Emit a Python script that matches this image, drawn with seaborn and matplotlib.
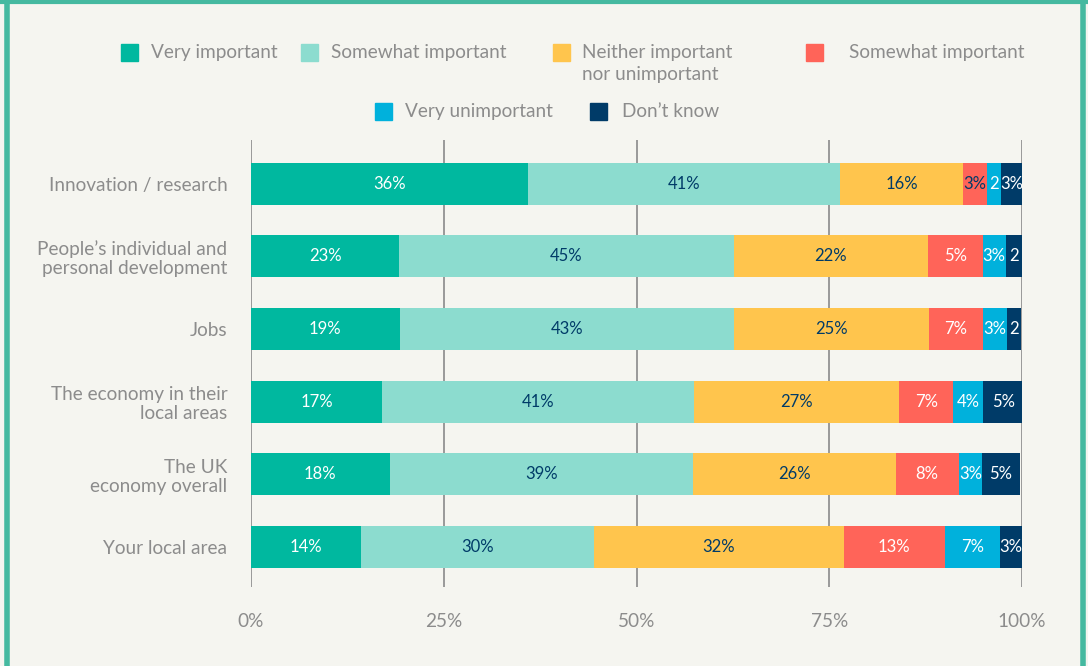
import matplotlib.pyplot as plt
import numpy as np
import pandas as pd
import seaborn as sns
from matplotlib.lines import Line2D
from matplotlib.patches import Rectangle

# data
questions = [
    "Innovation / research",
    "People\u2019s individual and\npersonal development",
    "Jobs",
    "The economy in their\nlocal areas",
    "The UK\neconomy overall",
    "Your local area",
]
answers = [
    "Very important", "Somewhat important", "Neither important\nnor unimportant",
    "Somewhat important ", "Very unimportant", "Don\u2019t know",
]
# segment widths as drawn (row 2 in the source is drawn with the Jobs widths)
very_imp    = [35.9, 19.2, 19.3, 17.0, 18.0, 14.3]
somewhat    = [40.5, 43.4, 43.4, 40.4, 39.3, 30.2]
neither     = [16.0, 25.2, 25.2, 26.7, 26.3, 32.4]
somewhat_un = [3.0, 7.1, 7.0, 7.0, 8.2, 13.1]
very_unimp  = [1.9, 3.0, 3.1, 3.9, 3.0, 7.1]
dont_know   = [2.8, 2.1, 1.9, 5.1, 4.9, 2.9]
# labels as printed on the bars
labels = [
    ["36%", "41%", "16%", "3%", "2", "3%"],
    ["23%", "45%", "22%", "5%", "3%", "2"],
    ["19%", "43%", "25%", "7%", "3%", "2"],
    ["17%", "41%", "27%", "7%", "4%", "5%"],
    ["18%", "39%", "26%", "8%", "3%", "5%"],
    ["14%", "30%", "32%", "13%", "7%", "3%"],
]
x_ticks = [0, 25, 50, 75, 100]

colors = ["#00b89f", "#8cdccf", "#ffc54d", "#ff6459", "#00b1dc", "#003b68"]
text_on = ["white", "#003b68", "#003b68", "white", "white", "white"]
grey = "#8c8c8c"
bg = "#f5f5f0"

sns.set_theme(style="white")
plt.rcParams["font.family"] = ["Lato", "DejaVu Sans"]

values = np.array([very_imp, somewhat, neither, somewhat_un, very_unimp, dont_know]).T
cum = values.cumsum(axis=1)

fig = plt.figure(figsize=(10.88, 6.66), dpi=100, facecolor=bg)
ax = fig.add_axes([251 / 1088, 1 - 587 / 666, 771 / 1088, 447 / 666])
ax.set_facecolor(bg)

for x in x_ticks:
    ax.axvline(x, color="#8a8a8a", lw=1.2, zorder=0)

# stacked bars: draw cumulative totals from the longest down
for j in range(len(answers) - 1, -1, -1):
    df = pd.DataFrame({"question": questions, "total": cum[:, j]})
    sns.barplot(data=df, x="total", y="question", orient="h", color=colors[j],
                saturation=1, width=0.58, linewidth=0, ax=ax, zorder=2)

for i in range(len(questions)):
    for j in range(len(answers)):
        c = text_on[j]
        if j == 3 and values[i, j] < 4:
            c = "#003b68"
        ax.text(cum[i, j] - values[i, j] / 2, i, labels[i][j], ha="center", va="center",
                fontsize=12, color=c, zorder=3)

ax.set_xlim(0, 100)
ax.set_ylim(5.55, -0.6)
ax.set_xticks(x_ticks)
ax.set_xticklabels([f"{x}%" for x in x_ticks])
ax.set_xlabel("")
ax.set_ylabel("")
ax.tick_params(axis="x", length=0, pad=19, labelsize=13.7, labelcolor=grey)
ax.tick_params(axis="y", length=0, pad=17, labelsize=13.7, labelcolor=grey)
for lab in ax.get_yticklabels():
    lab.set_linespacing(1.12)
sns.despine(ax=ax, left=True, bottom=True)

# legend drawn by hand in pixel positions
legend_items = [
    (121, 44, 0), (301, 44, 1), (553, 44, 2), (806, 44, 3),
    (375, 103, 4), (590, 103, 5),
]
text_x = [151, 331, 582, 849, 405, 622]
for (px, py, j), tx in zip(legend_items, text_x):
    fig.add_artist(Rectangle((px / 1088, 1 - (py + 17) / 666), 17 / 1088, 17 / 666,
                             transform=fig.transFigure, color=colors[j]))
    fig.text(tx / 1088, 1 - py / 666, answers[j].rstrip(), ha="left", va="top",
             fontsize=13.7, color=grey, linespacing=1.35)

# teal frame
frame = "#45b9a0"
fig.add_artist(Line2D([6.5 / 1088, 6.5 / 1088], [0, 1], color=frame, lw=4))
fig.add_artist(Line2D([1082.5 / 1088, 1082.5 / 1088], [0, 1], color=frame, lw=4))
fig.add_artist(Line2D([0, 1], [1 - 1.5 / 666, 1 - 1.5 / 666], color=frame, lw=3))

fig.savefig("out.png", dpi=100, facecolor=bg)
